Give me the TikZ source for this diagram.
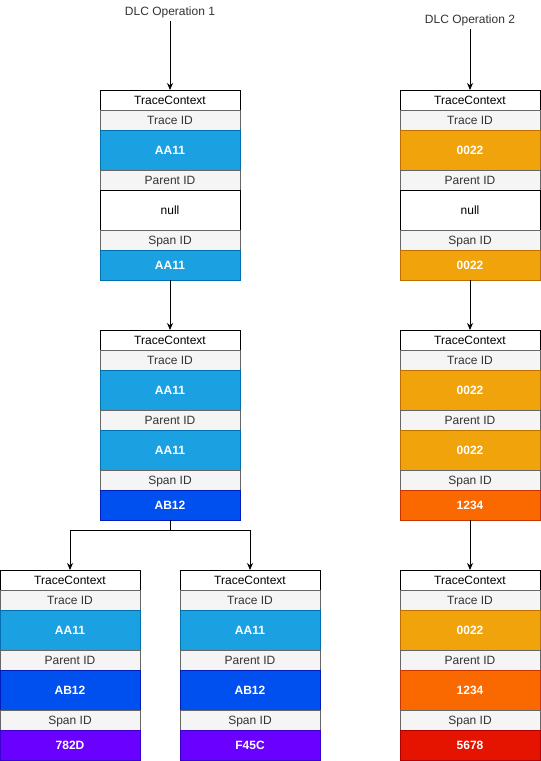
\documentclass[tikz,border=0pt]{standalone}
\usepackage{fontspec}
\setmainfont{Liberation Sans}
\usetikzlibrary{positioning, arrows.meta}
\definecolor{lblfill}{HTML}{F5F5F5}
\definecolor{lblline}{HTML}{666666}
\definecolor{lbltext}{HTML}{333333}
\definecolor{idlblue}{HTML}{1BA1E2}
\definecolor{idlblueline}{HTML}{006EAF}
\definecolor{idcobalt}{HTML}{0050EF}
\definecolor{idcobaltline}{HTML}{001DBC}
\definecolor{idviolet}{HTML}{6A00FF}
\definecolor{idvioletline}{HTML}{3700CC}
\definecolor{idamber}{HTML}{F0A30A}
\definecolor{idamberline}{HTML}{BD7000}
\definecolor{idorange}{HTML}{FA6800}
\definecolor{idorangeline}{HTML}{C73500}
\definecolor{idred}{HTML}{E51400}
\definecolor{idredline}{HTML}{B20000}
\tikzset{
  ctxbase/.style={minimum width=140pt, inner sep=0pt, outer sep=0pt, line width=1pt, text height=8.6pt, text depth=0pt, font=\fontsize{12}{14}\selectfont},
  ctxhead/.style={ctxbase, draw=black, fill=white, minimum height=20pt, anchor=north},
  ctxlabel/.style={ctxbase, draw=lblline, fill=lblfill, text=lbltext, minimum height=20pt},
  idcell/.style={ctxbase, text=white, font=\fontsize{12}{14}\selectfont\bfseries},
  nullcell/.style={ctxbase, draw=black, fill=white, text=black},
  cellblue/.style={idcell, fill=idlblue, draw=idlblueline},
  cellcobalt/.style={idcell, fill=idcobalt, draw=idcobaltline},
  cellviolet/.style={idcell, fill=idviolet, draw=idvioletline},
  cellamber/.style={idcell, fill=idamber, draw=idamberline},
  cellorange/.style={idcell, fill=idorange, draw=idorangeline},
  cellred/.style={idcell, fill=idred, draw=idredline},
  optext/.style={font=\fontsize{12}{14}\selectfont, text=black!80, inner sep=3pt},
  conn/.style={->, >={Stealth[length=7pt, width=6pt]}, line width=1pt}
}
% one TraceContext block: name, position, trace cell, parent cell, span cell
\newcommand{\tracectx}[8]{
  \node[ctxhead] (#1-head) at #2 {TraceContext};
  \node[ctxlabel, below=0pt of #1-head] (#1-tl) {Trace ID};
  \node[#3, minimum height=40pt, below=0pt of #1-tl] (#1-trace) {#4};
  \node[ctxlabel, below=0pt of #1-trace] (#1-pl) {Parent ID};
  \node[#5, minimum height=40pt, below=0pt of #1-pl] (#1-parent) {#6};
  \node[ctxlabel, below=0pt of #1-parent] (#1-sl) {Span ID};
  \node[#7, minimum height=30pt, below=0pt of #1-sl] (#1-span) {#8};
}
\begin{document}
\begin{tikzpicture}[x=1pt, y=1pt]
  \useasboundingbox (0,0) rectangle (541,-761);

  % operation 1
  \node[optext] (op1) at (170,-12) {DLC Operation 1};
  \tracectx{a}{(170,-90)}{cellblue}{AA11}{nullcell}{null}{cellblue}{AA11}
  \tracectx{b}{(170,-330)}{cellblue}{AA11}{cellblue}{AA11}{cellcobalt}{AB12}
  \tracectx{c}{(70,-570)}{cellblue}{AA11}{cellcobalt}{AB12}{cellviolet}{782D}
  \tracectx{d}{(250,-570)}{cellblue}{AA11}{cellcobalt}{AB12}{cellviolet}{F45C}

  % operation 2
  \node[optext] (op2) at (470,-20) {DLC Operation 2};
  \tracectx{e}{(470,-90)}{cellamber}{0022}{nullcell}{null}{cellamber}{0022}
  \tracectx{f}{(470,-330)}{cellamber}{0022}{cellamber}{0022}{cellorange}{1234}
  \tracectx{g}{(470,-570)}{cellamber}{0022}{cellorange}{1234}{cellred}{5678}

  % connectors
  \draw[conn] (op1) -- (a-head);
  \draw[conn] (a-span) -- (b-head);
  \draw[conn] (b-span) -- ++(0,-25) coordinate (split) -| (c-head);
  \draw[conn] (split) -| (d-head);
  \draw[conn] (op2) -- (e-head);
  \draw[conn] (e-span) -- (f-head);
  \draw[conn] (f-span) -- (g-head);
\end{tikzpicture}
\end{document}
